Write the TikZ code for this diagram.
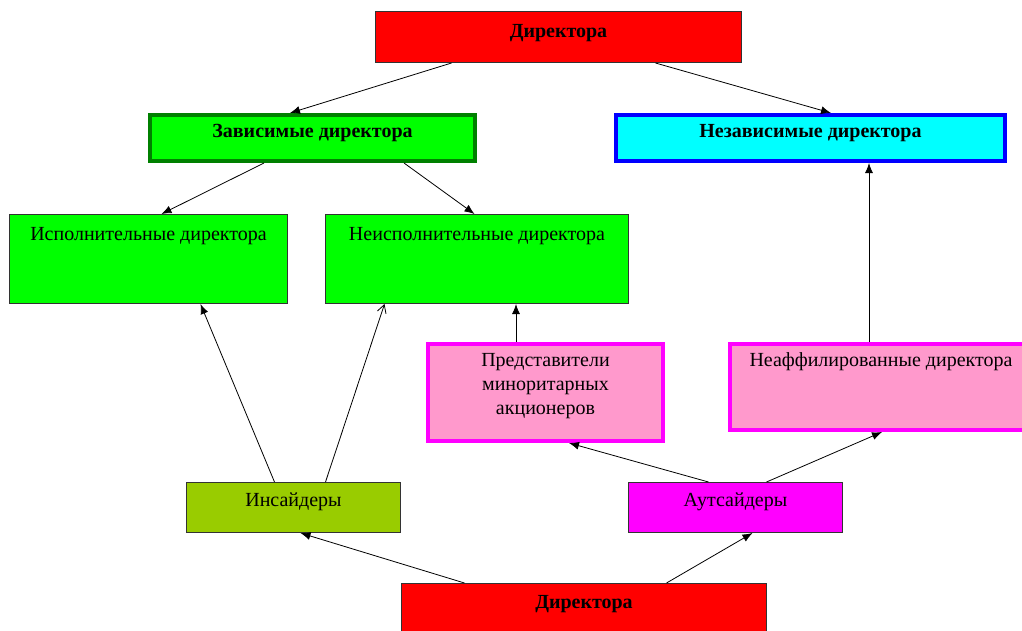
\documentclass[tikz,border=0pt]{standalone}
\usepackage{fontspec}
\setmainfont{Liberation Serif}
\usetikzlibrary{arrows.meta}

\definecolor{lime}{HTML}{00FF00}
\definecolor{darkgreen}{HTML}{008000}
\definecolor{cyanbox}{HTML}{00FFFF}
\definecolor{bluebox}{HTML}{0000FF}
\definecolor{magentabox}{HTML}{FF00FF}
\definecolor{pinkbox}{HTML}{FF99CC}
\definecolor{olivebox}{HTML}{99CC00}
\definecolor{redbox}{HTML}{FF0000}

\tikzset{
  box/.style={draw=black!80, line width=1pt, inner sep=0pt, anchor=north west,
    font=\fontsize{20}{24}\selectfont},
  thickbox/.style={box, line width=4pt},
  arr/.style={-{Latex[length=10pt,width=8pt]}, line width=0.8pt},
  openarr/.style={-{Straight Barb[length=8pt,width=9pt]}, line width=0.8pt},
}

\begin{document}
\begin{tikzpicture}[x=1pt,y=-1pt]
            \useasboundingbox (0,0) rectangle (1022,630);

            % upper half
            \node[box, fill=redbox, minimum width=366pt, text height=26pt, text depth=25pt]
              (dtop) at (375,11) {\textbf{Директора}};
            \node[thickbox, draw=darkgreen, fill=lime, minimum width=325pt, text height=22pt, text depth=24pt]
              (dep) at (148,113) {\textbf{Зависимые директора}};
            \node[thickbox, draw=bluebox, fill=cyanbox, minimum width=389pt, text height=22pt, text depth=24pt]
              (indep) at (614,113) {\textbf{Независимые директора}};

            \node[box, fill=lime, minimum width=278pt, text height=26pt, text depth=63pt]
              (exec) at (9,214) {Исполнительные директора};
            \node[box, fill=lime, minimum width=303pt, text height=26pt, text depth=63pt]
              (nonexec) at (325,214) {Неисполнительные директора};

            \node[thickbox, draw=magentabox, fill=pinkbox, minimum width=235pt, text height=22pt, text depth=75pt]
              (minor) at (426,342) {\begin{tabular}[t]{@{}c@{}}Представители\\миноритарных\\акционеров\end{tabular}};
            \node[thickbox, draw=magentabox, fill=pinkbox, minimum width=302pt, text height=22pt, text depth=64pt]
              (unaff) at (728,342) {Неаффилированные директора};

            % lower half
            \node[box, fill=olivebox, minimum width=214pt, text height=24pt, text depth=26pt]
              (ins) at (186,482) {Инсайдеры};
            \node[box, fill=magentabox, minimum width=214pt, text height=24pt, text depth=26pt]
              (outs) at (628,482) {Аутсайдеры};
            \node[box, fill=redbox, minimum width=365pt, text height=25pt, text depth=35pt]
              (dbot) at (401,583) {\textbf{Директора}};

            \draw[arr] ([xshift=-107pt]dtop.south) to ([xshift=-22.5pt]dep.north);
            \draw[arr] ([xshift=97pt]dtop.south) to ([xshift=20.5pt]indep.north);
            \draw[arr] ([xshift=-48.5pt]dep.south) to ([xshift=13pt]exec.north);
            \draw[arr] ([xshift=91.5pt]dep.south) to ([xshift=-2.5pt]nonexec.north);

            \draw[arr] ([xshift=-12pt]unaff.north) to ([xshift=58.5pt]indep.south);
            \draw[arr] ([xshift=-29.5pt]minor.north) to ([xshift=-29.5pt]nonexec.south -| minor.north);

            \draw[arr] ([xshift=-19pt]ins.north) to ([xshift=52pt]exec.south);
            \draw[openarr] ([xshift=32pt]ins.north) to ([xshift=-92.5pt]nonexec.south);
            \draw[arr] ([xshift=-27pt]outs.north) to ([xshift=23.5pt]minor.south);
            \draw[arr] ([xshift=31pt]outs.north) to ([xshift=1pt]unaff.south);

            \draw[arr] ([xshift=-119.5pt]dbot.north) to ([xshift=7pt]ins.south);
            \draw[arr] ([xshift=82.5pt]dbot.north) to ([xshift=17pt]outs.south);
        \end{tikzpicture}
\end{document}
